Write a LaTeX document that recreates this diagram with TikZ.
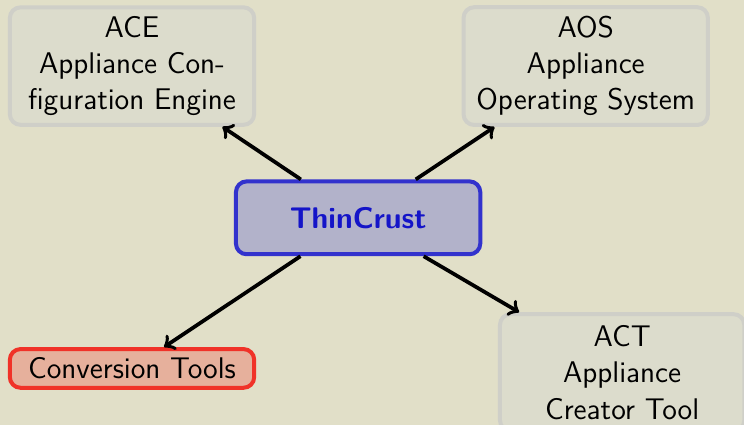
\documentclass[tikz,border=0pt]{standalone}
\usepackage{tikz}
\usetikzlibrary{calc}

\definecolor{bgcol}{RGB}{225,223,200}
\definecolor{grayfill}{RGB}{220,220,204}
\definecolor{grayline}{RGB}{207,207,200}
\definecolor{bluefill}{RGB}{178,178,202}
\definecolor{blueline}{RGB}{50,50,205}
\definecolor{bluetext}{RGB}{20,20,200}
\definecolor{redfill}{RGB}{230,176,156}
\definecolor{redline}{RGB}{240,50,40}

\begin{document}
\begin{tikzpicture}[
    box/.style={rectangle, rounded corners=4pt, line width=1.5pt, align=flush center,
        text width=3.15cm, inner xsep=1pt, minimum width=3.22cm,
        font=\sffamily\fontsize{11.2}{13.6}\selectfont},
    part/.style={box, draw=grayline, fill=grayfill, minimum height=1.54cm},
    core/.style={box, draw=blueline, fill=bluefill, text=bluetext, minimum height=0.96cm},
    tools/.style={box, draw=redline, fill=redfill, inner ysep=2pt, minimum height=0.51cm},
    link/.style={->, line width=1.4pt}
]
    \fill[bgcol] (0,0) rectangle (9.806,5.601);
    \useasboundingbox (0,0) rectangle (9.806,5.601);

    \node[core] (thin) at (4.72,2.73) {\bfseries ThinCrust};
    \node[part] (ace) at (1.74,4.73) {ACE\\Appliance Con-\\figuration Engine};
    \node[part] (aos) at (7.72,4.73) {AOS\\Appliance\\Operating System};
    \node[tools] (conv) at (1.74,0.745) {Conversion Tools};
    \node[part] (act) at (8.20,0.69) {ACT\\Appliance\\Creator Tool};

    \draw[link] (thin) -- (ace);
    \draw[link] (thin) -- (aos);
    \draw[link] (thin) -- (conv);
    \draw[link] (thin) -- (act);
\end{tikzpicture}
\end{document}
